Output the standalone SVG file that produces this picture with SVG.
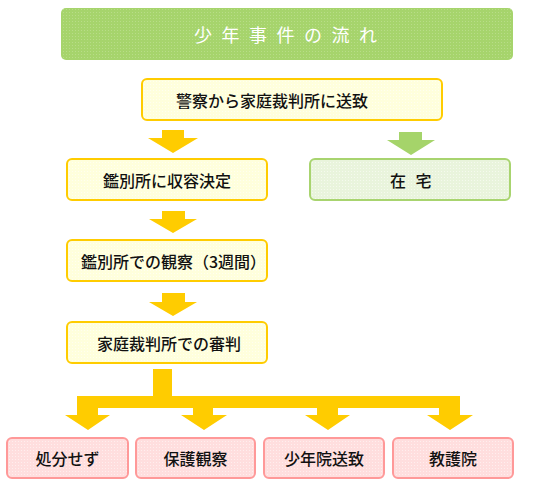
<svg xmlns="http://www.w3.org/2000/svg" width="560" height="493" viewBox="0 0 560 493">
<defs>
<pattern id="dotG" width="3" height="3" patternUnits="userSpaceOnUse"><rect width="3" height="3" fill="#a6d46c"/><rect width="1" height="1" fill="#b8dd88"/></pattern>
<pattern id="dotY" width="3" height="3" patternUnits="userSpaceOnUse"><rect width="3" height="3" fill="#ffffdc"/><rect width="1" height="1" fill="#fffff0"/></pattern>
<pattern id="dotL" width="3" height="3" patternUnits="userSpaceOnUse"><rect width="3" height="3" fill="#e9f4dc"/><rect width="1" height="1" fill="#f5faee"/></pattern>
<pattern id="dotP" width="3" height="3" patternUnits="userSpaceOnUse"><rect width="3" height="3" fill="#ffdede"/><rect width="1" height="1" fill="#ffeeee"/></pattern>
</defs>
<style>
.t{font-family:"Noto Sans CJK JP","Noto Sans CJK SC",sans-serif;font-size:16px;font-weight:500;fill:#111;dominant-baseline:central}
.m{text-anchor:middle}
.yb{fill:url(#dotY);stroke:#ffcc00;stroke-width:2}
.gb{fill:url(#dotL);stroke:#a8d46f;stroke-width:2}
.pb{fill:url(#dotP);stroke:#ff9999;stroke-width:2}
.ya{fill:#ffcc00}
.ga{fill:#a5d46a}
</style>
<g id="title">
<rect x="61" y="8" width="452" height="52" rx="5" fill="url(#dotG)"/>
<text x="194" y="34" class="t" style="font-size:18px;font-weight:400;fill:#fff;letter-spacing:9.5px">少年事件の流れ</text>
</g>
<g id="n1"><rect class="yb" x="142" y="79" width="300" height="41" rx="5"/><text class="t" x="176" y="99.5">警察から家庭裁判所に送致</text></g>
<g id="n2"><rect class="yb" x="67" y="159" width="200" height="41" rx="5"/><text class="t m" x="167" y="179.5">鑑別所に収容決定</text></g>
<g id="n3"><rect class="gb" x="310" y="159" width="200" height="41" rx="5"/><text class="t" x="390" y="179.5" style="letter-spacing:3px">在 宅</text></g>
<g id="n4"><rect class="yb" x="67" y="240" width="200" height="41" rx="5"/><text class="t" x="81" y="260.5">鑑別所での観察（3週間）</text></g>
<g id="n5"><rect class="yb" x="67" y="322" width="200" height="41" rx="5"/><text class="t" x="97" y="342.5">家庭裁判所での審判</text></g>
<g id="n6"><rect class="pb" x="7" y="438" width="121" height="40" rx="5"/><text class="t m" x="67.5" y="458">処分せず</text></g>
<g id="n7"><rect class="pb" x="136" y="438" width="119" height="40" rx="5"/><text class="t m" x="195.5" y="458">保護観察</text></g>
<g id="n8"><rect class="pb" x="264" y="438" width="120" height="40" rx="5"/><text class="t m" x="324" y="458">少年院送致</text></g>
<g id="n9"><rect class="pb" x="393" y="438" width="120" height="40" rx="5"/><text class="t m" x="453" y="458">教護院</text></g>
<g id="connectors">
<polygon class="ya" points="162,130 184,130 184,138 198,138 173,153 148,138 162,138"/>
<polygon class="ga" points="399,132 422,132 422,140 435,140 411,155 387,140 399,140"/>
<polygon class="ya" points="162,211 185,211 185,219 197,219 173,233 149,219 162,219"/>
<polygon class="ya" points="162,293 185,293 185,302 197,302 173,316 149,302 162,302"/>
<path class="ya" d="M153,369 H172 V396 H460 V415 H473 L450,430 L427,415 H439 V408 H338 V415 H350 L328,430 L305,415 H317 V408 H213 V415 H227 L204,430 L181,415 H193 V408 H98 V415 H110 L88,430 L65,415 H77 V396 H153 Z"/>
</g>
</svg>
